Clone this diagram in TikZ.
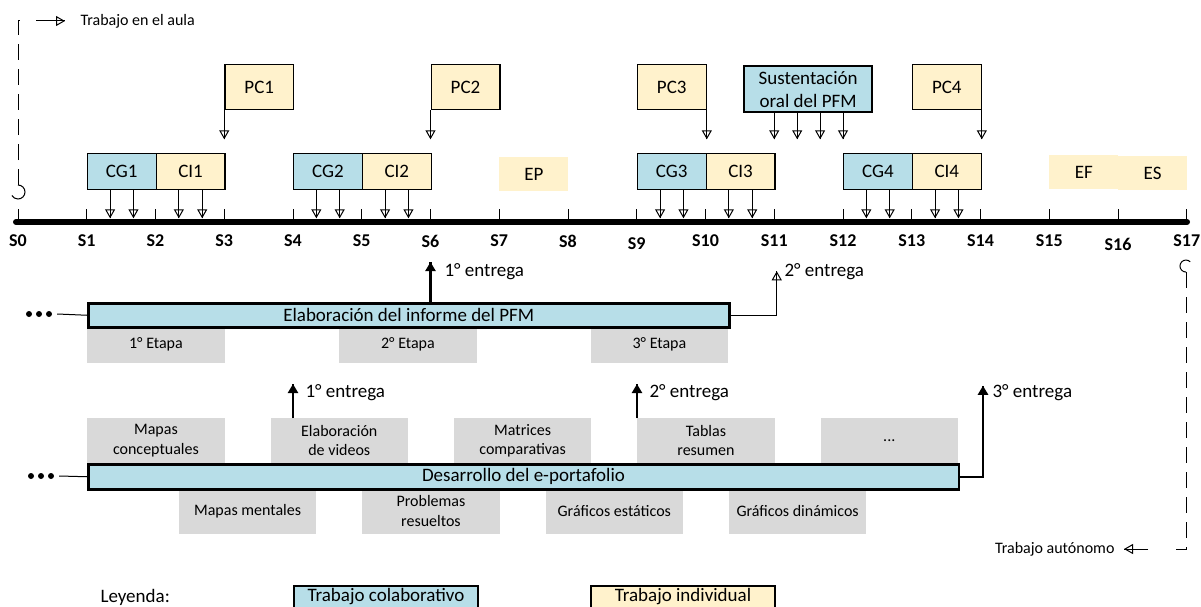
\documentclass[tikz,border=0pt]{standalone}
\usepackage{fontspec}
\setmainfont{Carlito}
\usetikzlibrary{arrows.meta,calc}
\definecolor{cblue}{HTML}{B7DEE8}
\definecolor{cyel}{HTML}{FFF2CC}
\definecolor{cgrey}{HTML}{D9D9D9}
\begin{document}
\begin{tikzpicture}[x=1pt,y=-1pt,
 bfont/.style={font=\fontsize{19}{23}\selectfont},
 sfont/.style={font=\fontsize{16}{19.5}\selectfont},
 slab/.style={font=\bfseries\fontsize{18}{20}\selectfont},
 tbox/.style={draw, line width=1.3pt, inner sep=0pt, anchor=north west, bfont, minimum width=68.75pt, minimum height=36pt},
 cgbox/.style={tbox, fill=cblue},
 cibox/.style={tbox, fill=cyel},
 pcbox/.style={tbox, fill=cyel, minimum height=45pt},
 evbox/.style={fill=cyel, inner sep=0pt, anchor=north west, bfont, minimum width=68.75pt, minimum height=34pt},
 gbox/.style={fill=cgrey, inner sep=0pt, anchor=north west, sfont, align=center, minimum width=137.5pt},
 sbar/.style={draw, line width=2.5pt, fill=cblue, inner sep=0pt, anchor=north west, bfont},
 tarrow/.style={line width=1pt, postaction={draw, -{Triangle[open,length=9pt,width=10pt]}}},
 karrow/.style={line width=2.4pt, postaction={draw, -{Triangle[open,length=9pt,width=10pt]}}},
 dashpat/.style={line width=1pt, dash pattern=on 16pt off 9pt},
 ddot/.style={circle, fill=black, inner sep=0pt, minimum size=6pt},
 lgbox/.style={draw, line width=2pt, inner sep=0pt, anchor=north west, bfont, minimum width=184pt, minimum height=22pt}
]
\useasboundingbox (0,0) rectangle (1201,607);
\clip (0,0) rectangle (1201,607);

% ---- timeline
\draw[line width=6pt, line cap=round] (16,222) coordinate (tA) -- (1187,222) coordinate (tB);
\foreach \k in {0,...,17}{
  \pgfmathsetmacro\xx{18+68.75*\k}
  \pgfmathsetmacro\yy{(\k==9 || \k==16) ? 244 : 241}
  \draw[line width=1pt] (\xx,209) -- (\xx,222);
  \node[slab] (S\k) at (\xx,\yy) {S\k};
}

% ---- CG / CI boxes
\node[cgbox] (cg1) at (86.75,153) {CG1};
\node[cibox] (ci1) at (155.5,153) {CI1};
\node[cgbox] (cg2) at (293,153) {CG2};
\node[cibox] (ci2) at (361.75,153) {CI2};
\node[cgbox] (cg3) at (636.75,153) {CG3};
\node[cibox] (ci3) at (705.5,153) {CI3};
\node[cgbox] (cg4) at (843,153) {CG4};
\node[cibox] (ci4) at (911.75,153) {CI4};
\foreach \b in {cg1,ci1,cg2,ci2,cg3,ci3,cg4,ci4}{
  \draw[tarrow] ($(\b.south west)!1/3!(\b.south east)$) -- ++(0,28);
  \draw[tarrow] ($(\b.south west)!2/3!(\b.south east)$) -- ++(0,28);
}

% ---- PC boxes
\node[pcbox] (pc1) at (224.25,64) {PC1};
\node[pcbox] (pc2) at (430.5,64) {PC2};
\node[pcbox] (pc3) at (636.75,64) {PC3};
\node[pcbox] (pc4) at (911.75,64) {PC4};
\draw[tarrow] (pc1.south west) -- ++(0,29);
\draw[tarrow] (pc2.south west) -- ++(0,29);
\draw[tarrow] (pc3.south east) -- ++(0,29);
\draw[tarrow] (pc4.south east) -- ++(0,29);

% ---- Sustentacion
\node[draw, line width=2.3pt, fill=cblue, anchor=north west, inner sep=0pt, minimum width=128pt, minimum height=46pt, align=center, bfont] (sus) at (743,65) {Sustentación\\oral del PFM};
\foreach \d in {31.25,54.2,77.1,100}{
  \draw[tarrow] ([xshift=\d pt]sus.south west) -- ++(0,26);
}

% ---- EP EF ES
\node[evbox] (ep) at (499.25,157) {EP};
\node[evbox] (ef) at (1049.25,155) {EF};
\node[evbox] (es) at (1118,156) {ES};

% ---- Elaboracion del informe
\node[gbox, minimum height=37pt] (et1) at (87,326) {1° Etapa};
\node[gbox, minimum height=37pt] (et2) at (339,326) {2° Etapa};
\node[gbox, minimum height=37pt] (et3) at (590.5,326) {3° Etapa};
\node[sbar, minimum width=641pt, minimum height=24pt] (elab) at (87,302) {Elaboración del informe del PFM};
\draw[karrow] ([xshift=343.5pt]elab.north west) -- ++(0,-40);
\node[bfont, anchor=west] (e1a) at (441,272) {1° entrega};
\draw[tarrow] (elab.east) -- ++(46.25,0) -- ++(0,-44);
\node[bfont, anchor=west] (e2a) at (781,272) {2° entrega};
\node[ddot] (da1) at (29,314) {};
\node[ddot] (da2) at (39,314) {};
\node[ddot] (da3) at (49,314) {};
\draw[line width=1pt] ([xshift=5pt]da3.east) -- (elab.west);

% ---- Desarrollo del e-portafolio
\node[gbox, minimum height=45pt] (gu1) at (87,418) {Mapas\\conceptuales};
\node[gbox, minimum height=45pt] (gu2) at (270.33,418) {Elaboración\\de videos};
\node[gbox, minimum height=45pt] (gu3) at (453.67,418) {Matrices\\comparativas};
\node[gbox, minimum height=45pt] (gu4) at (637,418) {Tablas\\resumen};
\node[gbox, minimum height=45pt] (gu5) at (820.33,418) {...};
\node[gbox, minimum height=46pt] (gl1) at (178.67,488) {Mapas mentales};
\node[gbox, minimum height=46pt] (gl2) at (362,488) {Problemas\\resueltos};
\node[gbox, minimum height=46pt] (gl3) at (545.33,488) {Gráficos estáticos};
\node[gbox, minimum height=46pt] (gl4) at (728.67,488) {Gráficos dinámicos};
\node[sbar, minimum width=870.5pt, minimum height=25pt] (des) at (87,463) {Desarrollo del e-portafolio};
\draw[karrow] ([xshift=22.67pt]gu2.north west) -- ++(0,-34);
\node[bfont, anchor=west] (e1b) at (302,393) {1° entrega};
\draw[karrow] (gu4.north west) -- ++(0,-34);
\node[bfont, anchor=west] (e2b) at (646,393) {2° entrega};
\draw[karrow] (des.east) -- ++(23,0) -- ++(0,-91);
\node[bfont, anchor=west] (e3b) at (989,393) {3° entrega};
\node[ddot] (db1) at (31,476) {};
\node[ddot] (db2) at (41,476) {};
\node[ddot] (db3) at (51,476) {};
\draw[line width=1pt] ([xshift=5pt]db3.east) -- (des.west);

% ---- Trabajo en el aula (left dashed)
\draw[line width=1pt] (18,185) arc[start angle=270, end angle=510, radius=7];
\draw[dashpat] (18,185) -- (18,21) -- (25,21);
\draw[tarrow] (36,21) -- (65,21);
\node[sfont, anchor=west] (aula) at (77,21) {Trabajo en el aula};

% ---- Trabajo autonomo (right dashed)
\draw[line width=1pt] (1190.2,261.8) arc[start angle=-45, end angle=-270, radius=6];
\draw[dashpat] (1186,272) -- (1186,549) -- (1176,549);
\draw[tarrow] (1148,549) -- (1124,549);
\node[sfont, anchor=east] (auto) at (1118,549) {Trabajo autónomo};

% ---- Legend
\node[bfont, anchor=west] (ley) at (97,597) {Leyenda:};
\node[lgbox, fill=cblue] (lg1) at (293,585) {Trabajo colaborativo};
\node[lgbox, fill=cyel] (lg2) at (590,585) {Trabajo individual};
\end{tikzpicture}
\end{document}
